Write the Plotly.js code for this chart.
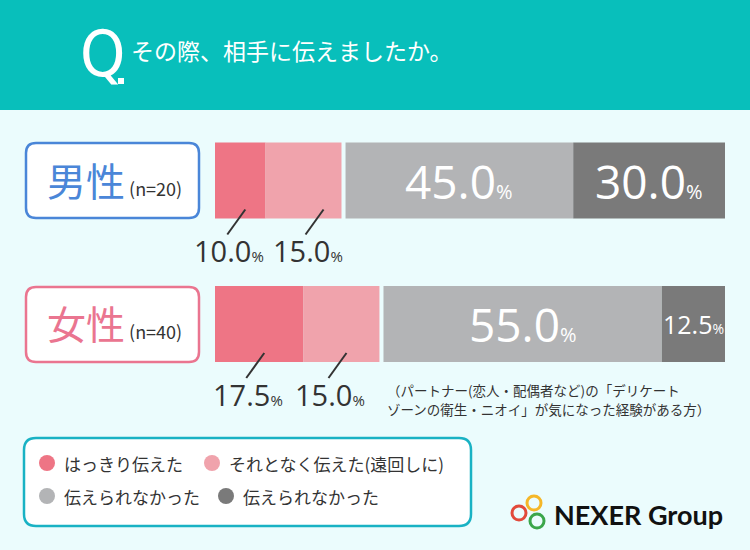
<!DOCTYPE html>
<html>
<head>
<meta charset="utf-8">
<script src="https://cdn.plot.ly/plotly-3.0.1.min.js"></script>
<style>
html,body{margin:0;padding:0;background:#ebfcfd;}
#chart{width:750px;height:550px;}
</style>
</head>
<body>
<div id="chart"></div>
<script>
// ---- data ----
const categories = ['男性', '女性'];
const sampleSizes = ['n=20', 'n=40'];
const seriesNames = ['はっきり伝えた', 'それとなく伝えた(遠回しに)', '伝えられなかった', '伝えられなかった'];
const clearlyTold = [10.0, 17.5];
const indirectlyTold = [15.0, 15.0];
const couldNotTell = [45.0, 55.0];
const couldNotTell2 = [30.0, 12.5];
const titleText = 'その際、相手に伝えましたか。';
const noteLines = ['（パートナー(恋人・配偶者など)の「デリケート', 'ゾーンの衛生・ニオイ」が気になった経験がある方）'];

// ---- style ----
const W = 750, H = 550;
const BG = '#ebfcfd';
const colors = ['#ee7585', '#f0a3ac', '#b3b4b6', '#7a7a7a'];
const catColors = ['#4a86d8', '#ea7590'];
const GAP = 0.8; // visual gap between told / not told groups (x units)
const BARW = 0.53;
const NUMFONT = 'Open Sans, Noto Sans, sans-serif';
const JPFONT = 'Noto Sans CJK JP, sans-serif';
const px = v => v / W;
const py = v => 1 - v / H;

const series = [clearlyTold, indirectlyTold, couldNotTell, couldNotTell2];

// bases (cumulative, with a gap before the "not told" group)
const bases = series.map((s, k) => categories.map((c, i) => {
  let b = 0;
  for (let j = 0; j < k; j++) b += series[j][i];
  if (k >= 2) b += GAP;
  return b;
}));

const traces = series.map((s, k) => ({
  type: 'bar',
  orientation: 'h',
  y: categories,
  x: s,
  base: bases[k],
  width: BARW,
  name: seriesNames[k],
  marker: {color: colors[k], line: {width: 0}},
  hoverinfo: 'skip',
  showlegend: false
}));

function roundRect(x0, y0, x1, y1, r) {
  const P = (x, y) => px(x).toFixed(5) + ',' + py(y).toFixed(5);
  return 'M' + P(x0 + r, y0) + ' L' + P(x1 - r, y0) + ' Q' + P(x1, y0) + ' ' + P(x1, y0 + r) +
    ' L' + P(x1, y1 - r) + ' Q' + P(x1, y1) + ' ' + P(x1 - r, y1) +
    ' L' + P(x0 + r, y1) + ' Q' + P(x0, y1) + ' ' + P(x0, y1 - r) +
    ' L' + P(x0, y0 + r) + ' Q' + P(x0, y0) + ' ' + P(x0 + r, y0) + ' Z';
}

const shapes = [];
const annotations = [];

// header band
shapes.push({type: 'rect', xref: 'paper', yref: 'paper', x0: 0, x1: 1, y0: py(110), y1: 1,
  fillcolor: '#08bfbb', line: {width: 0}, layer: 'below'});
annotations.push({xref: 'paper', yref: 'paper', x: px(78), y: py(54), xanchor: 'left', yanchor: 'middle',
  text: 'Q', showarrow: false, font: {family: 'DejaVu Sans Condensed, Liberation Sans Narrow, sans-serif', size: 64, color: '#ffffff'}});
shapes.push({type: 'rect', xref: 'paper', yref: 'paper', x0: px(118), x1: px(124), y0: py(84), y1: py(78),
  fillcolor: '#ffffff', line: {width: 0}});
annotations.push({xref: 'paper', yref: 'paper', x: px(129), y: py(50), xanchor: 'left', yanchor: 'middle',
  text: titleText, showarrow: false, font: {family: JPFONT, size: 23, color: '#ffffff'}});

// category label boxes
const boxTops = [143, 287];
categories.forEach((c, i) => {
  shapes.push({type: 'path', xref: 'paper', yref: 'paper', path: roundRect(26, boxTops[i], 199, boxTops[i] + 75, 10),
    fillcolor: '#ffffff', line: {color: catColors[i], width: 2.5}});
  annotations.push({xref: 'paper', yref: 'y', x: px(114), y: i, xanchor: 'center', yanchor: 'middle', yshift: 2,
    text: c + '<span style="font-size:18px;color:#333333"> (' + sampleSizes[i] + ')</span>',
    showarrow: false, font: {family: JPFONT, size: 39, color: catColors[i]}});
});

// value labels
const pct = (v, small) => v.toFixed(1) + '<span style="font-size:' + small + 'px">%</span>';
const outsideShift = [[-11, 4], [-11, -11]]; // [category][series] label x shift
series.forEach((s, k) => {
  categories.forEach((c, i) => {
    const mid = bases[k][i] + s[i] / 2;
    if (k >= 2) {
      const big = s[i] >= 20 ? 46 : 25;
      annotations.push({xref: 'x', yref: 'y', x: mid, y: i, xanchor: 'center', yanchor: 'middle', yshift: 0,
        text: pct(s[i], big >= 40 ? 20 : 14), showarrow: false,
        font: {family: NUMFONT, size: big, color: '#ffffff'}});
    } else {
      annotations.push({xref: 'x', yref: 'y', x: mid, y: i + BARW / 2, xanchor: 'center', yanchor: 'middle',
        xshift: outsideShift[i][k], yshift: -32,
        text: pct(s[i], 15), showarrow: false,
        font: {family: NUMFONT, size: 29, color: '#333333'}});
      const ls = (k === 1 && i === 0) ? 20 : 5;
      shapes.push({type: 'line', xref: 'x', yref: 'y', xsizemode: 'pixel', ysizemode: 'pixel',
        xanchor: mid, yanchor: i + BARW / 2,
        x0: ls, y0: 9, x1: ls - 18, y1: -16,
        line: {color: '#333333', width: 2}});
    }
  });
});

// note
noteLines.forEach((t, j) => {
  annotations.push({xref: 'paper', yref: 'paper', x: px(385), y: py(390 + j * 19), xanchor: 'left', yanchor: 'middle',
    text: t, showarrow: false, font: {family: JPFONT, size: 13.5, color: '#333333'}});
});

// legend box
shapes.push({type: 'path', xref: 'paper', yref: 'paper', path: roundRect(24, 438, 471, 526, 12),
  fillcolor: '#ffffff', line: {color: '#19b2c4', width: 2.5}});
const legPos = [[47, 463], [212, 463], [47, 496], [226, 496]];
seriesNames.forEach((n, k) => {
  const [cx, cy] = legPos[k];
  shapes.push({type: 'circle', xref: 'paper', yref: 'paper', x0: px(cx - 8), x1: px(cx + 8), y0: py(cy + 8), y1: py(cy - 8),
    fillcolor: colors[k], line: {width: 0}});
  annotations.push({xref: 'paper', yref: 'paper', x: px(cx + 15), y: py(cy), xanchor: 'left', yanchor: 'middle',
    text: n, showarrow: false, font: {family: JPFONT, size: 17, color: '#333333'}});
});

// logo
const logoRings = [[519, 513, '#e24a3b'], [534, 503, '#f5b728'], [537, 521, '#3aa64a']];
logoRings.forEach(([cx, cy, col]) => {
  shapes.push({type: 'circle', xref: 'paper', yref: 'paper', x0: px(cx - 7), x1: px(cx + 7), y0: py(cy + 7), y1: py(cy - 7),
    fillcolor: 'rgba(0,0,0,0)', line: {color: col, width: 3}});
});
annotations.push({xref: 'paper', yref: 'paper', x: px(552), y: py(514), xanchor: 'left', yanchor: 'middle',
  text: '<b>NEXER Group</b>', showarrow: false, font: {family: 'Lato, Noto Sans, sans-serif', size: 27, color: '#111111'}});

const layout = {
  width: W, height: H,
  margin: {l: 0, r: 0, t: 0, b: 0},
  paper_bgcolor: BG, plot_bgcolor: 'rgba(0,0,0,0)',
  barmode: 'overlay',
  showlegend: false,
  xaxis: {domain: [px(215), px(725)], range: [0, 100 + GAP], visible: false, fixedrange: true},
  yaxis: {type: 'category', categoryarray: categories, domain: [py(395.75), py(108.75)],
    range: [1.5, -0.5], visible: false, fixedrange: true},
  shapes: shapes,
  annotations: annotations
};

Plotly.newPlot('chart', traces, layout, {displayModeBar: false, staticPlot: true});
</script>
</body>
</html>
